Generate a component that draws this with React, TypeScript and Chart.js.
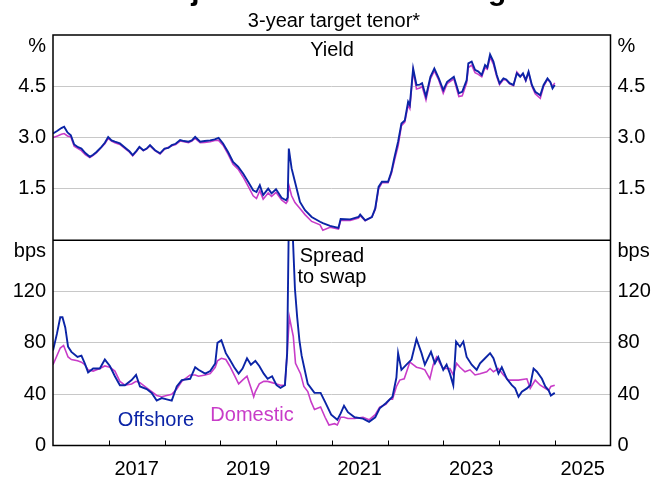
import React, { useEffect, useRef } from "react";
import { Chart, registerables } from "chart.js";

Chart.register(...registerables);

// ---------- DATA ----------
const yieldDates = [
  2016.0, 2016.08, 2016.15, 2016.2, 2016.26, 2016.32, 2016.38, 2016.45, 2016.51, 2016.58,
  2016.66, 2016.72, 2016.78, 2016.87, 2016.93, 2016.99, 2017.05, 2017.11, 2017.2, 2017.31,
  2017.37, 2017.43, 2017.5, 2017.55, 2017.62, 2017.68, 2017.74, 2017.83, 2017.92, 2018.0,
  2018.07, 2018.13, 2018.2, 2018.28, 2018.35, 2018.43, 2018.49, 2018.55, 2018.64, 2018.72,
  2018.82, 2018.9, 2018.97, 2019.05, 2019.14, 2019.23, 2019.32, 2019.41, 2019.5, 2019.59,
  2019.65, 2019.71, 2019.77, 2019.86, 2019.92, 2020.0, 2020.1, 2020.18, 2020.21, 2020.23,
  2020.28, 2020.34, 2020.43, 2020.52, 2020.64, 2020.79, 2020.84, 2020.97, 2021.12, 2021.16,
  2021.33, 2021.48, 2021.51, 2021.6, 2021.72, 2021.78, 2021.84, 2021.9, 2022.01, 2022.07,
  2022.12, 2022.19, 2022.25, 2022.31, 2022.37, 2022.4, 2022.46, 2022.52, 2022.58, 2022.62,
  2022.69, 2022.77, 2022.84, 2022.92, 2023.0, 2023.07, 2023.19, 2023.28, 2023.34, 2023.42,
  2023.45, 2023.51, 2023.57, 2023.63, 2023.69, 2023.75, 2023.79, 2023.84, 2023.9, 2023.96,
  2024.01, 2024.08, 2024.13, 2024.19, 2024.26, 2024.32, 2024.38, 2024.43, 2024.48, 2024.53,
  2024.59, 2024.65, 2024.74, 2024.8, 2024.87, 2024.92, 2024.96, 2025.0,
];
const offshoreYield = [
  3.12, 3.2, 3.28, 3.32, 3.15, 3.07, 2.8, 2.72, 2.68, 2.55,
  2.44, 2.5, 2.58, 2.73, 2.85, 3.02, 2.92, 2.88, 2.83, 2.68,
  2.6, 2.49, 2.62, 2.73, 2.63, 2.68, 2.78, 2.63, 2.54, 2.68,
  2.7, 2.78, 2.82, 2.93, 2.9, 2.88, 2.92, 3.02, 2.88, 2.9,
  2.92, 2.95, 2.99, 2.83, 2.58, 2.29, 2.15, 1.95, 1.71, 1.46,
  1.41, 1.61, 1.32, 1.51, 1.37, 1.49, 1.24, 1.17, 1.25, 2.68,
  2.1, 1.71, 1.12, 0.88, 0.68, 0.54, 0.5, 0.42, 0.36, 0.62,
  0.61, 0.68, 0.75, 0.58, 0.68, 0.93, 1.56, 1.71, 1.71, 2.0,
  2.39, 2.88, 3.41, 3.5, 4.05, 3.95, 5.02, 4.54, 4.55, 4.59,
  4.2, 4.78, 5.02, 4.73, 4.39, 4.63, 4.78, 4.3, 4.34, 4.68,
  5.17, 5.22, 4.98, 4.93, 4.83, 5.12, 5.05, 5.43, 5.22, 4.83,
  4.59, 4.73, 4.7, 4.59, 4.54, 4.88, 4.78, 4.88, 4.68, 4.93,
  4.54, 4.34, 4.24, 4.54, 4.73, 4.63, 4.44, 4.54,
];
const domesticYield = [
  3.0, 3.05, 3.1, 3.12, 3.05, 3.02, 2.75, 2.68, 2.62, 2.5,
  2.42, 2.48, 2.56, 2.72, 2.82, 2.98, 2.9, 2.85, 2.8, 2.66,
  2.58, 2.47, 2.6, 2.72, 2.62, 2.67, 2.76, 2.62, 2.52, 2.66,
  2.72, 2.76, 2.8, 2.9, 2.88, 2.85, 2.9, 2.98, 2.85, 2.86,
  2.88, 2.92, 2.92, 2.78, 2.52, 2.22, 2.08, 1.85, 1.58, 1.3,
  1.22, 1.45, 1.2, 1.38, 1.28, 1.4, 1.18, 1.08, 1.15, 1.61,
  1.3, 1.1, 0.93, 0.75, 0.55, 0.45, 0.29, 0.38, 0.33, 0.58,
  0.58, 0.65, 0.72, 0.57, 0.68, 0.9, 1.5, 1.68, 1.68, 1.95,
  2.3, 2.75, 3.35, 3.45, 3.95, 3.85, 4.95, 4.42, 4.45, 4.5,
  4.1, 4.72, 4.95, 4.68, 4.3, 4.58, 4.72, 4.2, 4.22, 4.6,
  5.05, 5.12, 4.9, 4.85, 4.78, 5.05, 5.0, 5.35, 5.15, 4.78,
  4.55, 4.7, 4.68, 4.57, 4.52, 4.92, 4.8, 4.85, 4.66, 4.9,
  4.5, 4.28, 4.15, 4.5, 4.7, 4.62, 4.5, 4.6,
];

const offshoreSpreadDates = [
  2016.0, 2016.07, 2016.13, 2016.17, 2016.22, 2016.27, 2016.33, 2016.44, 2016.51, 2016.57,
  2016.63, 2016.72, 2016.84, 2016.93, 2017.02, 2017.11, 2017.2, 2017.29, 2017.41, 2017.49,
  2017.56, 2017.68, 2017.77, 2017.86, 2017.95, 2018.04, 2018.13, 2018.22, 2018.31, 2018.46,
  2018.55, 2018.61, 2018.73, 2018.82, 2018.91, 2018.95, 2019.02, 2019.1, 2019.17, 2019.25,
  2019.33, 2019.4, 2019.48, 2019.55, 2019.63, 2019.7, 2019.78, 2019.85, 2019.93, 2020.01,
  2020.08, 2020.16, 2020.2, 2020.23, 2020.27, 2020.3, 2020.34, 2020.38, 2020.42, 2020.46,
  2020.5, 2020.57, 2020.69, 2020.8, 2020.88, 2020.99, 2021.1, 2021.16, 2021.22, 2021.29,
  2021.41, 2021.56, 2021.67, 2021.78, 2021.86, 2021.97, 2022.09, 2022.16, 2022.19, 2022.25,
  2022.34, 2022.43, 2022.52, 2022.61, 2022.67, 2022.78, 2022.85, 2022.91, 2023.0, 2023.06,
  2023.12, 2023.18, 2023.23, 2023.3, 2023.36, 2023.42, 2023.51, 2023.6, 2023.66, 2023.75,
  2023.84, 2023.9, 2023.99, 2024.05, 2024.14, 2024.23, 2024.29, 2024.35, 2024.41, 2024.5,
  2024.56, 2024.62, 2024.68, 2024.77, 2024.83, 2024.89, 2024.93, 2025.0,
];
const offshoreSpread = [
  74, 87, 100, 100, 92, 77, 73, 69, 70, 64,
  57, 60, 60, 67, 62, 54, 47, 47, 51, 55,
  46, 44, 41, 35, 37, 36, 35, 46, 51, 52,
  61, 59, 56, 58, 64, 80, 82, 72, 67, 61,
  56, 60, 68, 63, 66, 62, 56, 52, 54, 47,
  45, 47, 72, 175, 215, 165, 122, 100, 82, 70,
  62, 48, 41, 41, 34, 24, 20, 25, 31, 26,
  22, 21, 18.5, 22, 29, 33, 38, 53, 72, 59,
  63, 67, 83, 72, 63, 73, 64, 69, 59, 63,
  56, 47, 81, 77, 81, 69, 63, 59, 64, 68,
  72, 68, 56, 61, 52, 47, 44.5, 38, 42, 44.5,
  47, 60, 57.5, 52, 46, 43, 39, 41,
];

const domesticSpreadDates = [
  2016.0, 2016.07, 2016.13, 2016.19, 2016.27, 2016.33, 2016.44, 2016.51, 2016.57, 2016.63,
  2016.72, 2016.84, 2016.93, 2017.02, 2017.11, 2017.2, 2017.29, 2017.41, 2017.49, 2017.56,
  2017.68, 2017.77, 2017.86, 2017.95, 2018.04, 2018.13, 2018.22, 2018.31, 2018.46, 2018.55,
  2018.61, 2018.73, 2018.82, 2018.91, 2018.95, 2019.02, 2019.1, 2019.17, 2019.25, 2019.33,
  2019.4, 2019.48, 2019.55, 2019.6, 2019.63, 2019.7, 2019.78, 2019.85, 2019.93, 2020.01,
  2020.08, 2020.16, 2020.2, 2020.24, 2020.31, 2020.35, 2020.44, 2020.5, 2020.57, 2020.63,
  2020.69, 2020.8, 2020.88, 2020.95, 2021.05, 2021.1, 2021.16, 2021.22, 2021.29, 2021.41,
  2021.56, 2021.67, 2021.78, 2021.86, 2021.97, 2022.04, 2022.09, 2022.16, 2022.22, 2022.3,
  2022.37, 2022.4, 2022.46, 2022.52, 2022.61, 2022.67, 2022.76, 2022.82, 2022.88, 2022.94,
  2023.0, 2023.12, 2023.18, 2023.24, 2023.3, 2023.39, 2023.48, 2023.57, 2023.66, 2023.78,
  2023.84, 2023.9, 2023.99, 2024.08, 2024.17, 2024.25, 2024.35, 2024.5, 2024.56, 2024.65,
  2024.74, 2024.83, 2024.89, 2024.93, 2025.0,
];
const domesticSpread = [
  63, 70, 76, 78, 69, 67, 66, 65, 63, 59,
  58, 60, 62, 61, 58, 50, 47, 48, 50, 49,
  45, 42, 39, 38, 39, 40, 44, 50, 55, 55,
  54, 55, 56, 61, 66, 68, 67, 62, 55, 48,
  51, 54, 45, 38, 42, 48, 50, 50, 49, 48,
  47, 47, 72, 100, 85, 64, 56, 46, 42, 34,
  28, 30, 22, 16, 17, 16, 22, 22, 21, 21,
  22, 20, 24, 30, 32, 36, 36, 46, 51, 52,
  61, 65, 63, 61, 60, 59, 52, 63, 69, 64,
  60, 60, 55, 64, 61, 57.5, 59, 55, 56, 57.5,
  60, 57.5, 60, 55, 51, 51, 51, 52, 44.5, 51,
  47, 44.5, 43, 46, 47,
];

const xLabelYears = [2017, 2019, 2021, 2023, 2025];
const xTickYears = [2017, 2018, 2019, 2020, 2021, 2022, 2023, 2024, 2025];
const yieldTicks = [1.5, 3, 4.5];
const spreadTicks = [0, 40, 80, 120];
const yieldUnit = "%";
const spreadUnit = "bps";
const yieldUnitPos = 5.66;
const spreadUnitPos = 151.5;

const BLUE = "#0b24a6";
const MAGENTA = "#c83cc8";
const GRID = "#c8c8c8";
const FONT = '"Liberation Sans", Arial, Helvetica, sans-serif';

const toPts = (xs: number[], ys: number[]) => xs.map((x, i) => ({ x, y: ys[i] }));

const yieldTickFmt = (v: number) =>
  Math.abs(v - yieldUnitPos) < 1e-6 ? yieldUnit : v.toFixed(1);
const spreadTickFmt = (v: number) =>
  Math.abs(v - spreadUnitPos) < 1e-6 ? spreadUnit : String(v);

const textPlugin = {
  id: "rbaText",
  afterDatasetsDraw(chart: any) {
    const { ctx, chartArea: a, scales } = chart;
    const divider = Math.min(scales.yTopL.bottom, scales.yBotL.bottom);
    ctx.save();
    ctx.strokeStyle = "#000";
    ctx.lineWidth = 1.5;
    ctx.strokeRect(a.left, a.top, a.right - a.left, a.bottom - a.top);
    ctx.beginPath();
    ctx.moveTo(a.left, divider);
    ctx.lineTo(a.right, divider);
    ctx.stroke();
    ctx.lineWidth = 1;
    ctx.beginPath();
    for (const yr of xTickYears) {
      const px = Math.round(scales.x.getPixelForValue(yr)) + 0.5;
      ctx.moveTo(px, a.bottom);
      ctx.lineTo(px, a.bottom - 5);
    }
    ctx.stroke();
    ctx.restore();
  },
  afterDraw(chart: any) {
    const { ctx } = chart;
    ctx.save();
    ctx.textAlign = "center";
    ctx.textBaseline = "alphabetic";
    ctx.fillStyle = "#000";
    ctx.font = `bold 30px ${FONT}`;
    ctx.fillText("Major Bank Bond Pricing", 328, 0);
    ctx.font = `20px ${FONT}`;
    ctx.fillText("3-year target tenor*", 334, 27);
    ctx.fillText("Yield", 332, 56);
    ctx.fillText("Spread", 332, 262);
    ctx.fillText("to swap", 332, 283);
    ctx.fillStyle = BLUE;
    ctx.fillText("Offshore", 156, 426);
    ctx.fillStyle = MAGENTA;
    ctx.fillText("Domestic", 252, 421);
    ctx.restore();
  },
};

export default function App() {
  const ref = useRef<HTMLCanvasElement | null>(null);

  useEffect(() => {
    if (!ref.current) return;
    const tickFont = { family: FONT, size: 20 };
    const yAxis = (
      position: "left" | "right",
      min: number,
      max: number,
      ticks: number[],
      unitPos: number,
      fmt: (v: number) => string,
      showGrid: boolean,
      width: number
    ) => ({
      type: "linear",
      position,
      stack: position,
      stackWeight: 1,
      min,
      max,
      border: { display: false },
      grid: {
        drawTicks: false,
        color: (c: any) =>
          showGrid && c.tick && ticks.includes(c.tick.value) && c.tick.value !== 0
            ? GRID
            : "rgba(0,0,0,0)",
        lineWidth: 1,
      },
      afterBuildTicks: (s: any) => {
        s.ticks = [...ticks, unitPos].map((v) => ({ value: v }));
      },
      afterFit: (s: any) => {
        s.width = width;
      },
      ticks: {
        padding: 7,
        color: "#000",
        font: tickFont,
        callback: (v: any) => fmt(Number(v)),
      },
    });

    const line = (data: any[], axis: string, color: string, width: number) => ({
      data,
      yAxisID: axis,
      borderColor: color,
      backgroundColor: color,
      borderWidth: width,
      pointRadius: 0,
      tension: 0,
    });

    const chart = new Chart(ref.current, {
      type: "line",
      data: {
        datasets: [
          line(toPts(yieldDates, offshoreYield), "yTopL", BLUE, 1.9),
          line(toPts(yieldDates, domesticYield), "yTopL", MAGENTA, 1.6),
          line(toPts(offshoreSpreadDates, offshoreSpread), "yBotL", BLUE, 1.9),
          line(toPts(domesticSpreadDates, domesticSpread), "yBotL", MAGENTA, 1.6),
        ],
      } as any,
      options: {
        animation: false,
        responsive: false,
        maintainAspectRatio: false,
        layout: { padding: { top: 35, left: 0, right: 0, bottom: 0 } },
        plugins: { legend: { display: false }, tooltip: { enabled: false } },
        scales: {
          x: {
            type: "linear",
            min: 2016,
            max: 2026,
            border: { display: false },
            grid: { drawTicks: false, color: "rgba(0,0,0,0)" },
            afterBuildTicks: (s: any) => {
              s.ticks = xLabelYears.map((y) => ({ value: y + 0.5 }));
            },
            afterFit: (s: any) => {
              s.height = 32.5;
            },
            ticks: {
              padding: 12,
              color: "#000",
              font: tickFont,
              maxRotation: 0,
              autoSkip: false,
              callback: (v: any) => String(Math.floor(Number(v))),
            },
          },
          yBotL: yAxis("left", 0, 160, spreadTicks, spreadUnitPos, spreadTickFmt, true, 53),
          yTopL: yAxis("left", 0, 6, yieldTicks, yieldUnitPos, yieldTickFmt, true, 53),
          yTopR: yAxis("right", 0, 6, yieldTicks, yieldUnitPos, yieldTickFmt, false, 49.5),
          yBotR: yAxis("right", 0, 160, spreadTicks, spreadUnitPos, spreadTickFmt, false, 49.5),
        } as any,
      },
      plugins: [textPlugin],
    } as any);
    return () => chart.destroy();
  }, []);

  return (
    <div style={{ position: "absolute", left: 0, top: 0, width: 660, height: 478, background: "#fff" }}>
      <canvas ref={ref} width={660} height={478} style={{ width: 660, height: 478, display: "block" }} />
    </div>
  );
}
